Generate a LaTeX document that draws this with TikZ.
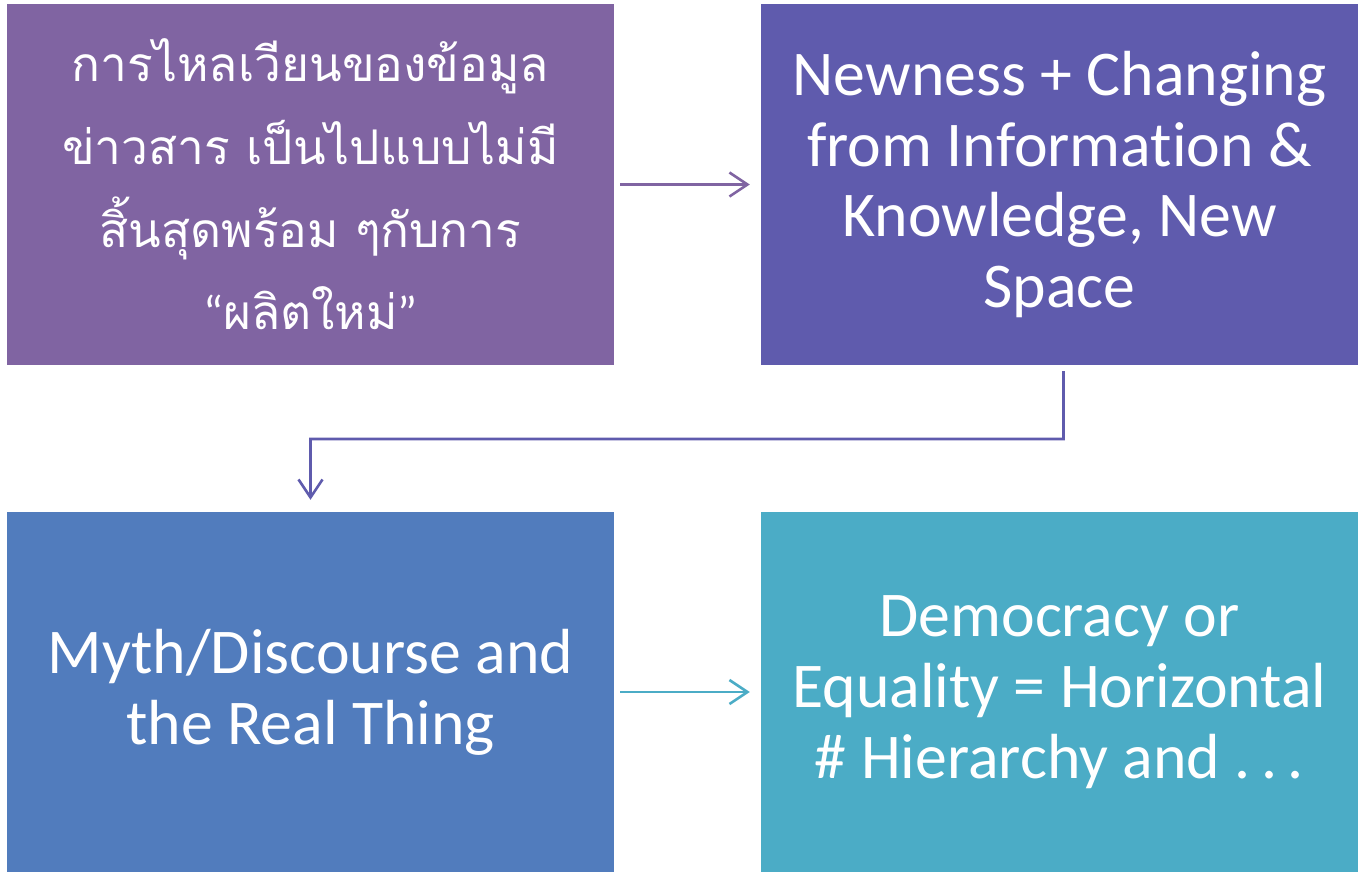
\documentclass[tikz,border=0pt]{standalone}
\usepackage{fontspec}
\setmainfont{Carlito}[Ligatures=CommonOff]
\newfontfamily\thaifont[Script=Thai]{Loma}
\usetikzlibrary{arrows.meta}
\definecolor{cA}{HTML}{8064A2}
\definecolor{cB}{HTML}{5F5BAD}
\definecolor{cC}{HTML}{517CBD}
\definecolor{cD}{HTML}{4BACC6}
\tikzset{
  box/.style={rectangle, inner sep=0pt, minimum width=#1, text=white, align=center, font=\fontsize{64}{71}\selectfont},
  thaitext/.style={font=\thaifont\fontsize{48}{83}\selectfont},
  conn/.style={line width=2.6bp, -{Straight Barb[length=18bp,width=24bp,line width=2.6bp]}},
}
\begin{document}
\begin{tikzpicture}[x=1bp,y=-1bp]
\useasboundingbox (0,0) rectangle (1358,872);
\node[box=607bp, fill=cA, minimum height=361bp, thaitext] (tl) at (310.5,184.5)
  {การไหลเวียนของข้อมูล\\ข่าวสาร เป็นไปแบบไม่มี\\สิ้นสุดพร้อม ๆกับการ\\{\normalfont “}ผลิตใหม่{\normalfont ”}};
\node[box=597bp, fill=cB, minimum height=361bp] (tr) at (1059.5,184.5)
  {Newness + Changing\\from Information \&\\Knowledge, New\\Space};
\node[box=607bp, fill=cC, minimum height=360bp] (bl) at (310.5,692)
  {Myth/Discourse and\\the Real Thing};
\node[box=597bp, fill=cD, minimum height=360bp] (br) at (1059.5,692)
  {Democracy or\\Equality = Horizontal\\\# Hierarchy and .\,.\,.};
\draw[conn, cA, shorten <=6bp, shorten >=11bp] (tl.east) -- (tr.west);
\draw[conn, cD, shorten <=6bp, shorten >=11bp] (bl.east) -- (br.west);
\coordinate (m1) at (1063.5,439);
\coordinate (m2) at (310.5,439);
\draw[conn, cB, shorten <=6bp, shorten >=12bp] ([xshift=4bp]tr.south) -- (m1) -- (m2) -- (bl.north);
\end{tikzpicture}
\end{document}
